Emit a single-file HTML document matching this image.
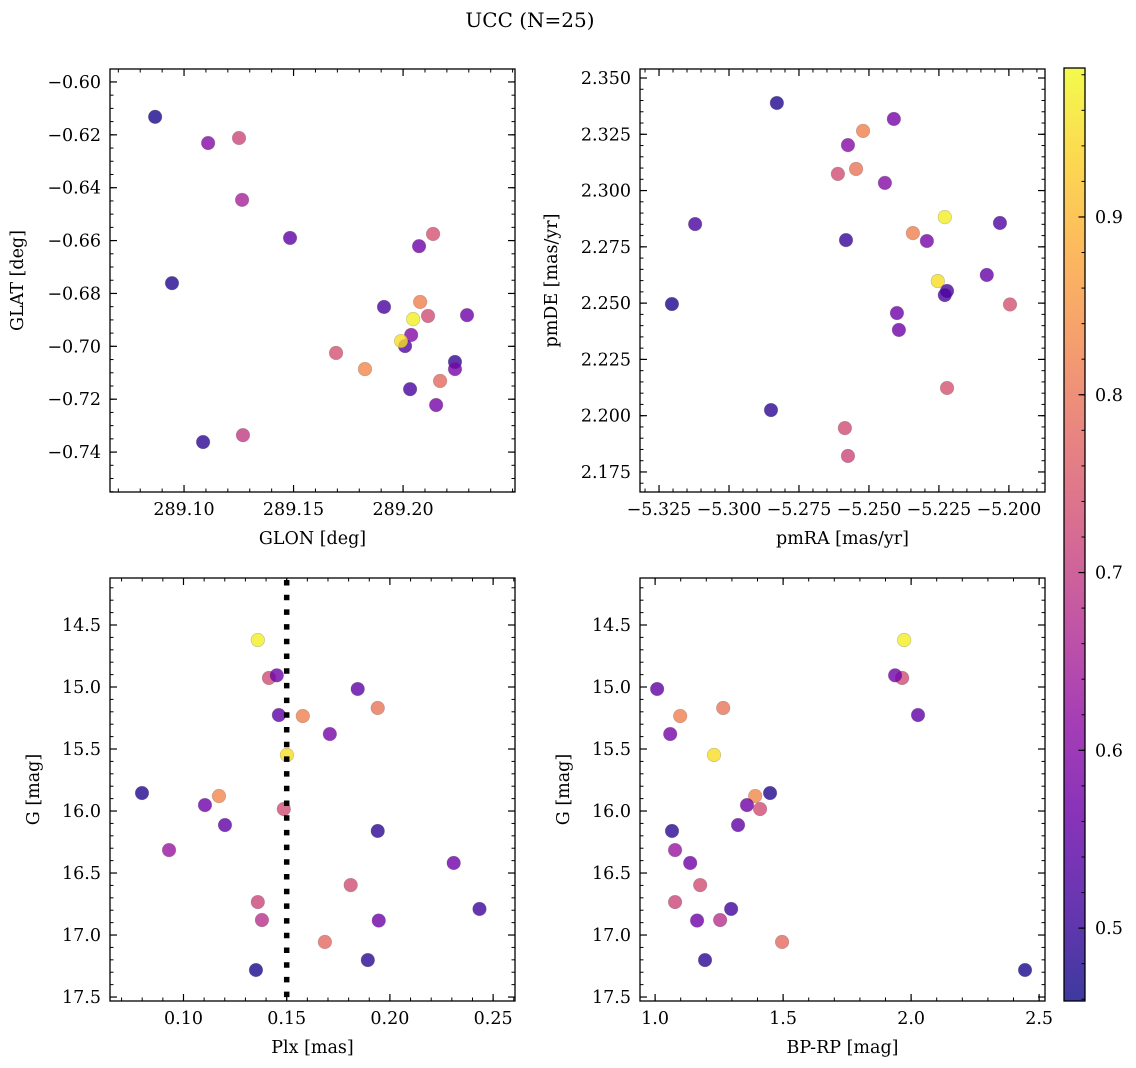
<!DOCTYPE html>
<html><head><meta charset="utf-8"><title>UCC (N=25)</title>
<style>
html,body{margin:0;padding:0;background:#fff;}
svg{display:block;font-family:"DejaVu Serif","Liberation Serif",serif;}
</style></head>
<body>
<svg id="fig" xmlns="http://www.w3.org/2000/svg" width="1136" height="1068" viewBox="0 0 1136 1068">
<rect x="0" y="0" width="1136" height="1068" fill="#fff"/>
<text x="530" y="27" font-size="20" text-anchor="middle">UCC (N=25)</text>
</svg>
<script>
// ---- data ----
const glon=[289.0868,289.1110,289.1251,289.1265,289.1484,289.0945,289.2073,289.2137,289.1913,289.2078,289.2046,289.2114,289.2292,289.2037,289.2009,289.1991,289.1694,289.1826,289.2237,289.2237,289.2032,289.2169,289.2151,289.1087,289.1269];
const glat=[-0.6132,-0.6231,-0.6212,-0.6446,-0.6590,-0.6761,-0.6621,-0.6575,-0.6851,-0.6832,-0.6897,-0.6885,-0.6882,-0.6957,-0.6999,-0.6980,-0.7025,-0.7086,-0.7059,-0.7086,-0.7162,-0.7131,-0.7222,-0.7362,-0.7336];
const probPos=[0.47,0.60,0.72,0.65,0.55,0.48,0.57,0.74,0.52,0.82,0.97,0.73,0.57,0.60,0.53,0.95,0.74,0.83,0.50,0.58,0.52,0.78,0.58,0.49,0.70];

const pmra=[-5.2829,-5.3204,-5.3121,-5.2521,-5.2411,-5.2575,-5.2611,-5.2546,-5.2443,-5.2582,-5.2229,-5.2343,-5.2293,-5.2032,-5.2254,-5.2079,-5.2221,-5.2229,-5.1996,-5.2400,-5.2393,-5.2221,-5.2850,-5.2586,-5.2575];
const pmde=[2.3389,2.2496,2.2851,2.3265,2.3318,2.3202,2.3074,2.3096,2.3034,2.2780,2.2882,2.2811,2.2776,2.2856,2.2598,2.2625,2.2554,2.2536,2.2494,2.2456,2.2381,2.2123,2.2025,2.1945,2.1821];
const probPM=[0.48,0.47,0.52,0.82,0.58,0.60,0.73,0.80,0.60,0.50,0.97,0.82,0.58,0.53,0.95,0.56,0.52,0.52,0.74,0.57,0.57,0.74,0.49,0.73,0.72];

const plx=[0.1360,0.1414,0.1452,0.1844,0.1941,0.1462,0.1578,0.1709,0.1501,0.0799,0.1172,0.1104,0.1486,0.1201,0.1941,0.0930,0.2309,0.1810,0.1360,0.1380,0.1946,0.2434,0.1685,0.1893,0.1351];
const gmag=[14.621,14.927,14.906,15.016,15.169,15.226,15.234,15.379,15.548,15.855,15.879,15.952,15.984,16.113,16.161,16.315,16.419,16.597,16.734,16.879,16.883,16.790,17.056,17.202,17.282];
const bprp=[1.973,1.965,1.9375,1.008,1.266,2.027,1.098,1.059,1.230,1.449,1.391,1.359,1.410,1.324,1.066,1.078,1.137,1.176,1.078,1.254,1.164,1.297,1.496,1.195,2.445];
const probPhot=[0.97,0.73,0.57,0.55,0.80,0.55,0.82,0.58,0.95,0.48,0.83,0.57,0.73,0.55,0.49,0.63,0.57,0.73,0.72,0.68,0.57,0.51,0.78,0.49,0.47];
const plxMean=0.150;

const xTicks1=[289.10,289.15,289.20];
const xLabels1=["289.10","289.15","289.20"];
const yTicks1=[-0.60,-0.62,-0.64,-0.66,-0.68,-0.70,-0.72,-0.74];
const yLabels1=["−0.60","−0.62","−0.64","−0.66","−0.68","−0.70","−0.72","−0.74"];
const xTicks2=[-5.325,-5.300,-5.275,-5.250,-5.225,-5.200];
const xLabels2=["−5.325","−5.300","−5.275","−5.250","−5.225","−5.200"];
const yTicks2=[2.175,2.200,2.225,2.250,2.275,2.300,2.325,2.350];
const yLabels2=["2.175","2.200","2.225","2.250","2.275","2.300","2.325","2.350"];
const xTicks3=[0.10,0.15,0.20,0.25];
const xLabels3=["0.10","0.15","0.20","0.25"];
const yTicksG=[14.5,15.0,15.5,16.0,16.5,17.0,17.5];
const yLabelsG=["14.5","15.0","15.5","16.0","16.5","17.0","17.5"];
const xTicks4=[1.0,1.5,2.0,2.5];
const xLabels4=["1.0","1.5","2.0","2.5"];
const cbTicks=[0.5,0.6,0.7,0.8,0.9];
const cbLabels=["0.5","0.6","0.7","0.8","0.9"];
const cbRange=[0.459,0.9838];

// ---- rendering ----
const NS="http://www.w3.org/2000/svg";
const svg=document.getElementById('fig');
function el(tag,attrs,parent){const e=document.createElementNS(NS,tag);for(const k in attrs)e.setAttribute(k,attrs[k]);(parent||svg).appendChild(e);return e;}
const PL=[[13,8,135],[65,4,157],[106,0,168],[143,13,164],[177,42,144],[204,71,120],[225,100,98],[242,132,75],[252,166,54],[252,206,37],[240,249,33]];
function plasma(t){t=Math.max(0,Math.min(1,t));const f=t*10;const i=Math.min(9,Math.floor(f));const r=f-i;const a=PL[i],b=PL[i+1];
 return 'rgb('+Math.round(a[0]+(b[0]-a[0])*r)+','+Math.round(a[1]+(b[1]-a[1])*r)+','+Math.round(a[2]+(b[2]-a[2])*r)+')';}
function cnorm(v){return (v-cbRange[0])/(cbRange[1]-cbRange[0]);}
const FS=17.5;

function panel(p){
 const g=el('g',{});
 
 
 p.sx=v=>p.x0+(v-p.xd[0])/(p.xd[1]-p.xd[0])*(p.x1-p.x0);
 p.sy=v=>p.y0+(v-p.yd[0])/(p.yd[1]-p.yd[0])*(p.y1-p.y0);
 const mx=p.xstep/p.xminor, my=p.ystep/p.yminor;
 const xs=Math.min(p.xd[0],p.xd[1]), xe=Math.max(p.xd[0],p.xd[1]);
 for(let v=Math.ceil(xs/mx-1e-6)*mx; v<=xe+1e-9; v+=mx){const x=p.sx(v);
  el('line',{x1:x,x2:x,y1:p.y1,y2:p.y1-3.5,stroke:'#000','stroke-width':1},g);
  el('line',{x1:x,x2:x,y1:p.y0,y2:p.y0+3.5,stroke:'#000','stroke-width':1},g);}
 const ys=Math.min(p.yd[0],p.yd[1]), ye=Math.max(p.yd[0],p.yd[1]);
 for(let v=Math.ceil(ys/my-1e-6)*my; v<=ye+1e-9; v+=my){const y=p.sy(v);
  el('line',{x1:p.x0,x2:p.x0+3.5,y1:y,y2:y,stroke:'#000','stroke-width':1},g);
  el('line',{x1:p.x1,x2:p.x1-3.5,y1:y,y2:y,stroke:'#000','stroke-width':1},g);}
 p.xt.forEach((v,i)=>{const x=p.sx(v);
  el('line',{x1:x,x2:x,y1:p.y1,y2:p.y1-7,stroke:'#000','stroke-width':1.2},g);
  el('line',{x1:x,x2:x,y1:p.y0,y2:p.y0+7,stroke:'#000','stroke-width':1.2},g);
  const t=el('text',{x:x,y:p.y1+23,'font-size':FS,'text-anchor':'middle'},g);t.textContent=p.xl[i];
  
  });
 p.yt.forEach((v,i)=>{const y=p.sy(v);
  el('line',{x1:p.x0,x2:p.x0+7,y1:y,y2:y,stroke:'#000','stroke-width':1.2},g);
  el('line',{x1:p.x1,x2:p.x1-7,y1:y,y2:y,stroke:'#000','stroke-width':1.2},g);
  const t=el('text',{x:p.x0-9,y:y+6,'font-size':FS,'text-anchor':'end'},g);t.textContent=p.yl[i];
  
  });
 el('rect',{x:p.x0,y:p.y0,width:p.x1-p.x0,height:p.y1-p.y0,fill:'none',stroke:'#000','stroke-width':1.3},g);
 const xl=el('text',{x:(p.x0+p.x1)/2,y:p.y1+52,'font-size':FS,'text-anchor':'middle'},g);xl.textContent=p.xlabel;
 
 
 const yx=p.ylx, yy=(p.y0+p.y1)/2;
 const yl=el('text',{x:yx,y:yy,'font-size':FS,'text-anchor':'middle',transform:'rotate(-90 '+yx+' '+yy+')'},g);yl.textContent=p.ylabel;
 
 
 return g;
}
function scatter(p,g,xv,yv,pv){
 for(let i=0;i<xv.length;i++){
  const c=el('circle',{cx:p.sx(xv[i]),cy:p.sy(yv[i]),r:6.8,fill:plasma(cnorm(pv[i])),'fill-opacity':0.8,stroke:'#555','stroke-opacity':0.35,'stroke-width':0.6},g);
  
  
 }
}

const P1={name:'panel-glon-glat',x0:110,x1:515,y0:69,y1:492,xd:[289.0662,289.2511],yd:[-0.5951,-0.7551],xstep:0.05,xminor:5,ystep:0.02,yminor:4,xt:xTicks1,xl:xLabels1,yt:yTicks1,yl:yLabels1,xlabel:'GLON [deg]',ylabel:'GLAT [deg]',ylx:23};
const P2={name:'panel-pm',x0:640,x1:1045,y0:69,y1:492,xd:[-5.3318,-5.1871],yd:[2.354,2.1661],xstep:0.025,xminor:5,ystep:0.025,yminor:5,xt:xTicks2,xl:xLabels2,yt:yTicks2,yl:yLabels2,xlabel:'pmRA [mas/yr]',ylabel:'pmDE [mas/yr]',ylx:557};
const P3={name:'panel-plx-g',x0:110,x1:515,y0:578,y1:1001,xd:[0.0644,0.2606],yd:[14.121,17.532],xstep:0.05,xminor:5,ystep:0.5,yminor:5,xt:xTicks3,xl:xLabels3,yt:yTicksG,yl:yLabelsG,xlabel:'Plx [mas]',ylabel:'G [mag]',ylx:39};
const P4={name:'panel-cmd',x0:640,x1:1045,y0:578,y1:1001,xd:[0.941,2.523],yd:[14.121,17.532],xstep:0.5,xminor:5,ystep:0.5,yminor:5,xt:xTicks4,xl:xLabels4,yt:yTicksG,yl:yLabelsG,xlabel:'BP-RP [mag]',ylabel:'G [mag]',ylx:569};

const g1=panel(P1); scatter(P1,g1,glon,glat,probPos);
const g2=panel(P2); scatter(P2,g2,pmra,pmde,probPM);
const g3=panel(P3); scatter(P3,g3,plx,gmag,probPhot);
const vl=el('line',{x1:P3.sx(plxMean),x2:P3.sx(plxMean),y1:P3.y0+2,y2:P3.y1,stroke:'#000','stroke-width':5.5,'stroke-dasharray':'5.5 9.2'},g3);


const g4=panel(P4); scatter(P4,g4,bprp,gmag,probPhot);

const CB={x0:1064,x1:1085,y0:68,y1:1001};
const defs=el('defs',{});
const lg=el('linearGradient',{id:'cbg',x1:0,y1:1,x2:0,y2:0},defs);
for(let k=0;k<=20;k++){el('stop',{offset:(k/20),'stop-color':plasma(k/20),'stop-opacity':0.8},lg);}
const cbg=el('g',{});


el('rect',{x:CB.x0,y:CB.y0,width:CB.x1-CB.x0,height:CB.y1-CB.y0,fill:'url(#cbg)'},cbg);
const cy=v=>CB.y1-(v-cbRange[0])/(cbRange[1]-cbRange[0])*(CB.y1-CB.y0);
for(let v=0.46;v<=0.981;v+=0.02){const y=cy(v);el('line',{x1:CB.x1,x2:CB.x1-3.5,y1:y,y2:y,stroke:'#000','stroke-width':1},cbg);}
cbTicks.forEach((v,i)=>{const y=cy(v);
 el('line',{x1:CB.x1,x2:CB.x1-6.5,y1:y,y2:y,stroke:'#000','stroke-width':1.2},cbg);
 const t=el('text',{x:CB.x1+10,y:y+6,'font-size':FS},cbg);t.textContent=cbLabels[i];
 
 });
el('rect',{x:CB.x0,y:CB.y0,width:CB.x1-CB.x0,height:CB.y1-CB.y0,fill:'none',stroke:'#000','stroke-width':1.3},cbg);
</script>
</body></html>
